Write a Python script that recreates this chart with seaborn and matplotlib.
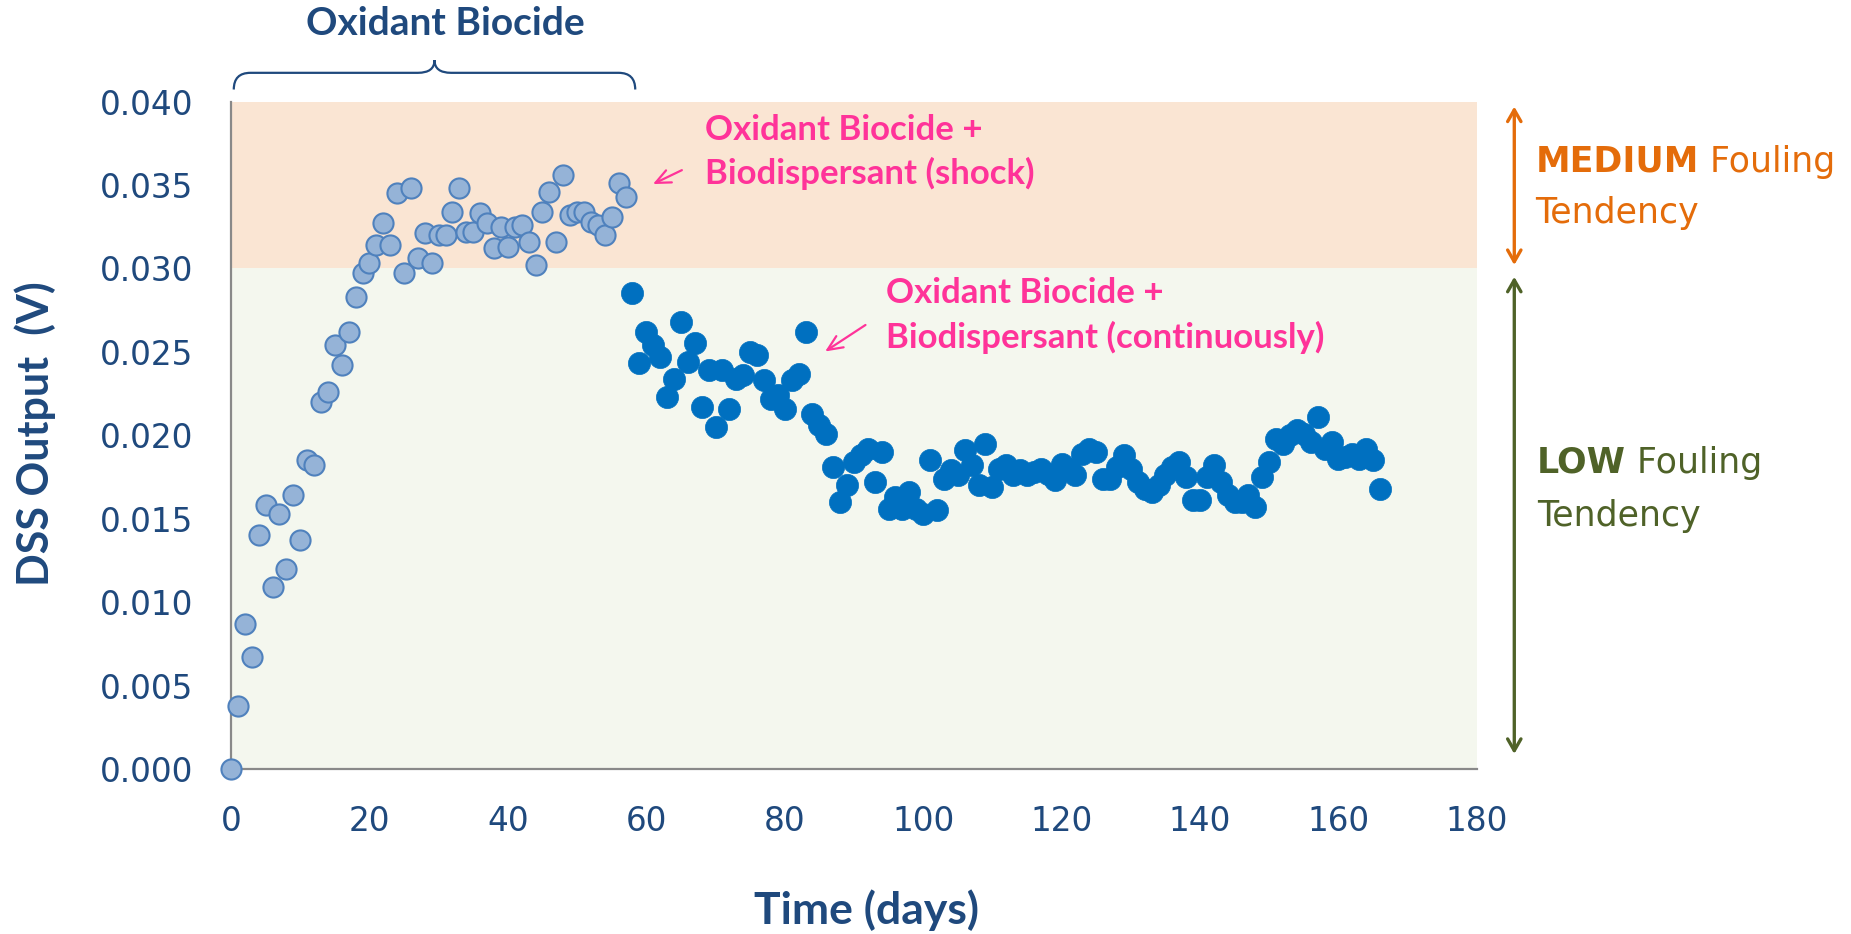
import matplotlib
matplotlib.use("Agg")
import matplotlib.pyplot as plt
import seaborn as sns
import pandas as pd
from matplotlib.path import Path
from matplotlib.patches import PathPatch
import matplotlib.transforms as mtransforms

# Oxidant biocide only (light points)
shock_days = list(range(0, 58))
shock_vals = [0.0000, 0.0038, 0.0087, 0.0067, 0.0140, 0.0158, 0.0109, 0.0153, 0.0120, 0.0164,
              0.0137, 0.0185, 0.0182, 0.0220, 0.0226, 0.0254, 0.0242, 0.0262, 0.0283, 0.0297,
              0.0303, 0.0314, 0.0327, 0.0314, 0.0345, 0.0297, 0.0348, 0.0306, 0.0321, 0.0303,
              0.0320, 0.0320, 0.0334, 0.0348, 0.0322, 0.0322, 0.0333, 0.0327, 0.0312, 0.0325,
              0.0313, 0.0325, 0.0326, 0.0316, 0.0302, 0.0334, 0.0346, 0.0316, 0.0356, 0.0332,
              0.0334, 0.0334, 0.0328, 0.0326, 0.0320, 0.0331, 0.0351, 0.0343]

# Oxidant biocide + biodispersant continuously (dark points)
cont_days = list(range(58, 167))
cont_vals = [0.0285, 0.0243, 0.0262, 0.0254, 0.0247, 0.0223, 0.0234, 0.0268, 0.0244, 0.0255,
             0.0217, 0.0239, 0.0205, 0.0239, 0.0216, 0.0234, 0.0236, 0.0250, 0.0248, 0.0233,
             0.0222, 0.0224, 0.0216, 0.0233, 0.0237, 0.0262, 0.0213, 0.0206, 0.0201, 0.0181,
             0.0160, 0.0170, 0.0184, 0.0188, 0.0192, 0.0172, 0.0190, 0.0156, 0.0163, 0.0156,
             0.0166, 0.0156, 0.0153, 0.0185, 0.0155, 0.0174, 0.0179, 0.0176, 0.0191, 0.0182,
             0.0170, 0.0195, 0.0169, 0.0180, 0.0182, 0.0176, 0.0179, 0.0176, 0.0178, 0.0180,
             0.0177, 0.0173, 0.0183, 0.0180, 0.0176, 0.0189, 0.0192, 0.0190, 0.0174, 0.0174,
             0.0181, 0.0188, 0.0180, 0.0172, 0.0168, 0.0166, 0.0170, 0.0176, 0.0181, 0.0184,
             0.0175, 0.0161, 0.0161, 0.0175, 0.0182, 0.0172, 0.0164, 0.0160, 0.0160, 0.0164,
             0.0157, 0.0175, 0.0184, 0.0198, 0.0195, 0.0200, 0.0203, 0.0201, 0.0196, 0.0211,
             0.0192, 0.0196, 0.0186, 0.0187, 0.0189, 0.0186, 0.0192, 0.0185, 0.0168]

y_ticks = [0.000, 0.005, 0.010, 0.015, 0.020, 0.025, 0.030, 0.035, 0.040]
x_ticks = [0, 20, 40, 60, 80, 100, 120, 140, 160, 180]
medium_band = (0.030, 0.040)
low_band = (0.000, 0.030)

navy = "#1F497D"
pink = "#FF3399"
orange = "#E46C0A"
green = "#4F6228"

sns.set_theme(style="white")
plt.rcParams["font.family"] = ["DejaVu Sans"]

df_shock = pd.DataFrame({"day": shock_days, "dss": shock_vals})
df_cont = pd.DataFrame({"day": cont_days, "dss": cont_vals})

fig = plt.figure(figsize=(18.51, 9.34), dpi=100)
ax = fig.add_axes([0.1248, 0.1767, 0.6731, 0.7146])

ax.axhspan(*medium_band, color="#FAE5D3", zorder=0, lw=0)
ax.axhspan(*low_band, color="#F4F7EE", zorder=0, lw=0)

sns.scatterplot(data=df_shock, x="day", y="dss", ax=ax, s=210, color="#95B3D7",
                edgecolor="#4F81BD", linewidth=1.5, zorder=3, clip_on=False)
sns.scatterplot(data=df_cont, x="day", y="dss", ax=ax, s=255, color="#0070C0",
                edgecolor="#0070C0", linewidth=0.5, zorder=3, clip_on=False)

ax.set_xlim(0, 180)
ax.set_ylim(0, 0.040)
ax.set_xticks(x_ticks)
ax.set_yticks(y_ticks)
ax.set_yticklabels([f"{v:.3f}" for v in y_ticks])
for s in ["top", "right"]:
    ax.spines[s].set_visible(False)
for s in ["left", "bottom"]:
    ax.spines[s].set_color("#898989")
    ax.spines[s].set_linewidth(1.6)
ax.tick_params(axis="both", which="major", direction="out", length=8, width=1.6,
               color="#898989", labelsize=23.5, labelcolor=navy, pad=18)
ax.tick_params(axis="y", pad=19)

ax.set_xlabel("Time (days)", fontsize=32, fontweight="bold", color=navy,
              family="Lato", va="center")
ax.xaxis.set_label_coords(0.510, -0.211)
ax.set_ylabel("DSS Output  (V)", fontsize=31, fontweight="bold", color=navy,
              family="Lato", va="center", ha="center")
ax.yaxis.set_label_coords(-0.157, 0.502)

# brace over the oxidant biocide period
trans = mtransforms.blended_transform_factory(ax.transData, ax.transAxes)
bx0 = shock_days[0] + 0.4
bx1 = shock_days[-1] + 1.4
bm = (bx0 + bx1) / 2
yl, yh, yt = 1.018, 1.043, 1.062
r = 2.4
verts = [(bx0, yl), (bx0, yh), (bx0 + r, yh), (bm - r, yh), (bm, yh), (bm, yt),
         (bm, yh), (bm + r, yh), (bx1 - r, yh), (bx1, yh), (bx1, yl)]
codes = [Path.MOVETO, Path.CURVE3, Path.CURVE3, Path.LINETO, Path.CURVE3, Path.CURVE3,
         Path.CURVE3, Path.CURVE3, Path.LINETO, Path.CURVE3, Path.CURVE3]
ax.add_patch(PathPatch(Path(verts, codes), transform=trans, fill=False,
                       edgecolor=navy, lw=1.6, clip_on=False))
ax.text(bm + 1.5, 1.117, "Oxidant Biocide", transform=trans, ha="center", va="center",
        fontsize=28, fontweight="bold", color=navy, family="Lato")

# pink annotations
pink_arrow = dict(arrowstyle="->,head_length=0.9,head_width=0.4", color=pink, lw=1.6)
for txt, yy in [("Oxidant Biocide +", 0.0383), ("Biodispersant (shock)", 0.0357)]:
    ax.text(68.5, yy, txt, ha="left", va="center", fontsize=25, fontweight="bold",
            color=pink, family="Lato")
ax.annotate("", xy=(60.6, 0.03498), xytext=(65.5, 0.03596), arrowprops=pink_arrow)
for txt, yy in [("Oxidant Biocide +", 0.02854), ("Biodispersant (continuously)", 0.02585)]:
    ax.text(94.7, yy, txt, ha="left", va="center", fontsize=25, fontweight="bold",
            color=pink, family="Lato")
ax.annotate("", xy=(85.5, 0.02493), xytext=(92.0, 0.0267), arrowprops=pink_arrow)

# fouling tendency arrows on the right
ytr = ax.get_yaxis_transform()
ax.annotate("", xy=(1.030, 0.0397), xytext=(1.030, 0.0302), xycoords=ytr, textcoords=ytr,
            arrowprops=dict(arrowstyle="<->,head_length=0.7,head_width=0.4",
                            color=orange, lw=2.4, shrinkA=0, shrinkB=0))
ax.annotate("", xy=(1.030, 0.0295), xytext=(1.030, 0.0009), xycoords=ytr, textcoords=ytr,
            arrowprops=dict(arrowstyle="<->,head_length=0.7,head_width=0.4",
                            color=green, lw=2.4, shrinkA=0, shrinkB=0))

t1 = ax.text(1.047, 0.0364, "MEDIUM", transform=ytr, ha="left", va="center",
             fontsize=25, fontweight="bold", color=orange)
ax.annotate(" Fouling", xy=(1, 0.5), xycoords=t1, ha="left", va="center",
            fontsize=25, color=orange)
ax.text(1.047, 0.0333, "Tendency", transform=ytr, ha="left", va="center",
        fontsize=25, color=orange)
t2 = ax.text(1.048, 0.01835, "LOW", transform=ytr, ha="left", va="center",
             fontsize=25, fontweight="bold", color=green)
ax.annotate(" Fouling", xy=(1, 0.5), xycoords=t2, ha="left", va="center",
            fontsize=25, color=green)
ax.text(1.048, 0.01517, "Tendency", transform=ytr, ha="left", va="center",
        fontsize=25, color=green)

fig.savefig("out.png", dpi=100)
